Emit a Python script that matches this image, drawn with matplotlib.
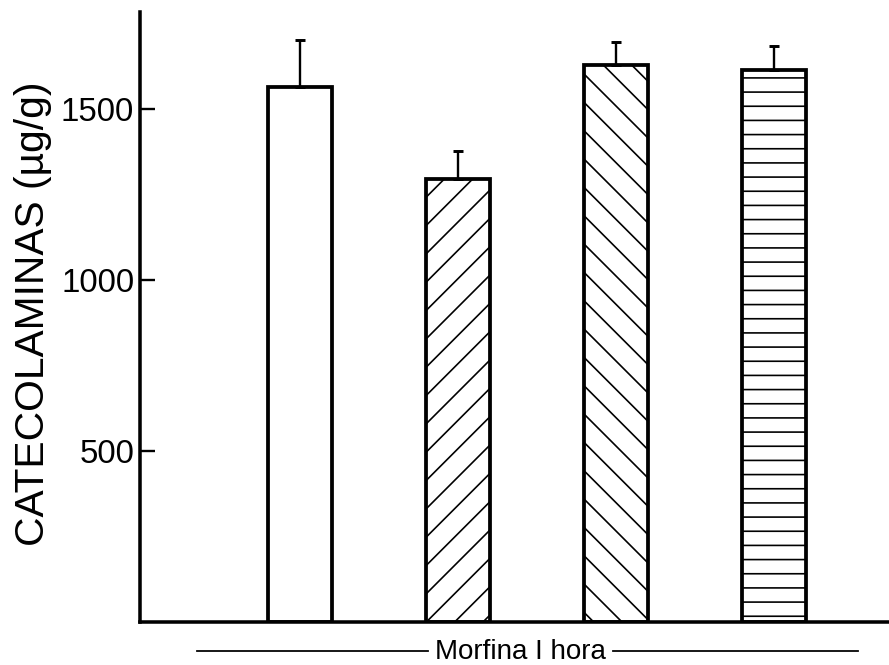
import numpy as np
import matplotlib
matplotlib.use("Agg")
from matplotlib import pyplot as plt
from matplotlib.lines import Line2D

# catecolaminas por grupo (ug/g), con error estandar (solo hacia arriba)
grupos = ["control", "morfina", "morfina + A", "morfina + B"]
valores = [1565, 1295, 1630, 1615]
errores = [138, 81, 65, 70]
tramas = ["", "/", "\\", "-"]
yticks = [500, 1000, 1500]

plt.rcParams['font.family'] = ['Liberation Sans', 'DejaVu Sans']
plt.rcParams['hatch.linewidth'] = 1.4
plt.rcParams['hatch.color'] = 'black'

DPI = 85
fig = plt.figure(figsize=(889.4 / DPI, 665.4 / DPI), dpi=DPI)
ax = fig.add_axes([140 / 889, 43 / 665, 1 - 140 / 889, 610 / 665])

x = np.arange(1, len(valores) + 1)
for xi, v, e, h in zip(x, valores, errores, tramas):
    ax.bar(xi, v, width=0.405, color='white', edgecolor='black',
           linewidth=3.2, hatch=h, zorder=2)
    ax.errorbar(xi, v, yerr=[[0], [e]], fmt='none', ecolor='black',
                elinewidth=2, capsize=4, capthick=2.5, zorder=3)

ax.set_xlim(-0.01, 4.73)
ax.set_ylim(0, 1785)
ax.set_yticks(yticks)
ax.set_xticks([])
ax.tick_params(axis='y', direction='in', length=13, width=2, pad=5,
               labelsize=28)

for s in ['top', 'right']:
    ax.spines[s].set_visible(False)
for s in ['left', 'bottom']:
    ax.spines[s].set_linewidth(3)

ax.set_ylabel("CATECOLAMINAS (µg/g)", fontsize=34.5)
ax.yaxis.set_label_coords(-0.118, 0.506)

# rotulo inferior con lineas a los lados
fig.text(520 / 889, 1 - 659 / 665, "Morfina I hora", fontsize=23.5,
         ha='center', va='baseline')
yl = 1 - 651 / 665
fig.add_artist(Line2D([197 / 889, 428 / 889], [yl, yl], color='black', lw=1.5))
fig.add_artist(Line2D([613 / 889, 858 / 889], [yl, yl], color='black', lw=1.5))

fig.savefig("out.png", dpi=DPI)
